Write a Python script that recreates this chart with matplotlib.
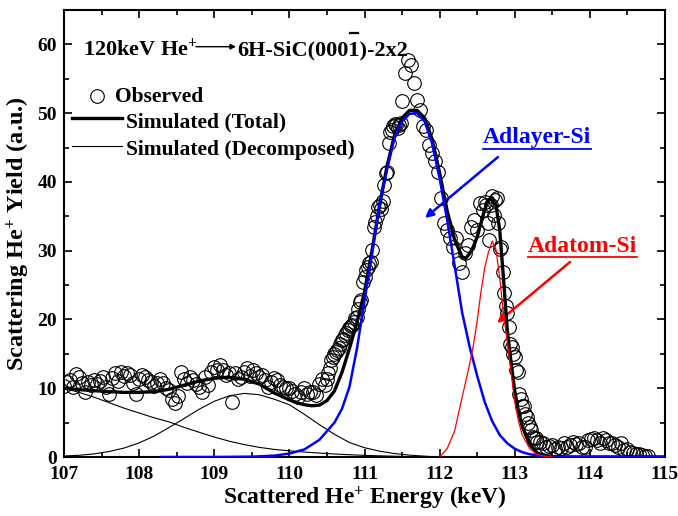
import numpy as np
import matplotlib
matplotlib.use('Agg')
import matplotlib.pyplot as plt
from matplotlib.lines import Line2D
from matplotlib.ticker import MultipleLocator

plt.rcParams['font.family'] = ['Liberation Serif', 'DejaVu Serif']
plt.rcParams['font.weight'] = 'bold'
plt.rcParams['mathtext.fontset'] = 'custom'
plt.rcParams['mathtext.rm'] = 'Liberation Serif:bold'
plt.rcParams['mathtext.bf'] = 'Liberation Serif:bold'
plt.rcParams['mathtext.it'] = 'Liberation Serif:bold:italic'

# ---------------- data ----------------
# observed spectrum: channel segments (start energy, step) + yields
obs_a_start, obs_a_step = 107.00, 0.04
obs_a = [10.3, 10.9, 11.2, 10.2, 12.0, 11.6, 10.7, 9.4, 10.9, 10.5, 11.2, 10.6, 11.0,
         11.7, 10.2, 9.2, 11.5, 12.2, 11.0, 12.4, 11.8, 12.2, 11.9, 10.8, 9.2,
         11.4, 11.9, 11.7, 11.2, 10.9, 10.3, 10.7, 11.3, 10.7, 10.1, 9.7, 8.5, 7.8,
         8.9, 12.4, 11.4, 10.7, 11.7, 11.2, 10.6, 10.2, 9.4, 11.7, 10.5, 12.4,
         13.1, 12.6, 13.4, 12.7, 11.9, 12.2, 8.0, 12.2, 11.4, 11.7, 12.4, 12.9, 11.8,
         12.6, 12.2, 11.7, 11.9, 11.2, 10.2, 10.9, 11.5, 11.2, 10.4, 10.2, 10.0,
         10.0, 9.6, 9.2, 8.7, 9.4, 10.0, 9.2, 9.5, 9.5, 9.0, 10.6, 11.4, 10.4]
obs_b_start, obs_b_step = 110.50, 0.02
obs_b = [11.4, 12.2, 13.0, 14.1, 14.6, 15.0, 15.3, 15.6, 15.8, 16.5,
         17.0, 17.2, 17.7, 18.0, 18.5, 18.7, 19.0, 19.2, 19.6, 20.2,
         20.4, 21.5, 22.6, 22.8, 25.5, 26.2, 27.2, 27.7, 28.2, 28.4,
         30.1, 33.5, 34.2, 35.0, 36.4, 36.6, 36.0, 37.2, 39.5, 41.3,
         41.5, 45.6, 47.2, 47.6, 48.1, 48.4, 48.3, 47.9, 48.3, 48.6]
obs_c_start, obs_c_step = 111.50, 0.04
obs_c = [51.7, 55.8, 57.8, 57.0, 54.4, 51.9, 50.5, 48.1, 47.6, 45.4, 44.2, 43.0, 41.5,
         37.6, 34.0, 33.0, 31.8, 30.6, 31.8, 28.2, 26.9, 29.6, 30.8, 33.5, 34.4, 33.0,
         36.9, 35.9]
obs_d_start, obs_d_step = 112.60, 0.02
obs_d = [37.1, 36.7, 34.0, 31.6, 36.7, 37.9, 35.2, 37.4, 37.6, 34.0,
         30.3, 30.6, 26.9, 23.8, 22.0, 20.9, 18.9, 16.5, 16.0, 15.0,
         14.6, 12.6, 12.4, 9.2, 8.5, 7.4, 7.4, 6.3, 5.8, 4.9,
         4.4, 3.9, 2.9, 2.7, 2.7, 2.2]
obs_e_start, obs_e_step = 113.34, 0.04
obs_e = [2.2, 2.0, 1.5, 1.6, 1.7, 1.2, 1.5, 1.3, 2.0, 1.5,
         1.7, 2.2, 1.9, 2.0, 1.4, 1.5, 2.4, 2.6, 2.8, 2.4,
         2.1, 2.8, 2.5, 2.0, 2.0, 1.8, 1.5, 2.0, 1.0, 1.2,
         0.75, 0.6, 0.5, 0.4, 0.3, 0.2, 0.1]

# decomposed (thin black) components
dec_e = [107.0, 107.2, 107.4, 107.6, 107.8, 108.0, 108.2, 108.4, 108.6, 108.8,
         109.0, 109.2, 109.4, 109.6, 109.8, 110.0, 110.2, 110.4, 110.6, 110.8,
         111.0, 111.2, 111.4, 111.6, 111.8, 112.0]
dec1_y = [10.0, 9.4, 8.7, 7.9, 7.1, 6.4, 5.7, 5.1, 4.3, 3.6,
          2.9, 2.3, 1.8, 1.4, 1.1, 0.9, 0.72, 0.57, 0.44, 0.33,
          0.24, 0.17, 0.11, 0.06, 0.03, 0.0]
dec2_y = [0.15, 0.25, 0.45, 0.8, 1.3, 2.05, 3.05, 4.3, 5.6, 6.95,
          8.1, 8.9, 9.25, 9.05, 8.4, 7.6, 6.2, 4.7, 3.3, 2.1,
          1.35, 0.85, 0.5, 0.27, 0.12, 0.0]

# Adlayer-Si component (blue)
blue_e = [108.3, 109.0, 109.5, 109.8, 110.0, 110.2, 110.4, 110.6, 110.7, 110.8,
          110.9, 111.0, 111.1, 111.2, 111.3, 111.4, 111.5, 111.6, 111.7, 111.8,
          111.9, 112.0, 112.1, 112.2, 112.3, 112.4, 112.5, 112.6, 112.7, 112.8,
          112.9, 113.0, 113.1, 113.2, 113.4, 113.6, 114.0, 115.0]
blue_y = [0, 0, 0.05, 0.2, 0.5, 1.1, 2.5, 5.0, 7.0, 10.2,
          15.8, 22.7, 29.5, 36.8, 41.8, 46.5, 48.8, 49.9, 50.0, 48.8,
          45.6, 40.5, 34.5, 27.8, 21.0, 16.0, 11.8, 8.0, 5.2, 3.2,
          2.0, 1.2, 0.7, 0.4, 0.12, 0.04, 0, 0]

# Adatom-Si component (red)
red_e = [112.0, 112.1, 112.2, 112.3, 112.4, 112.45, 112.5, 112.55, 112.6, 112.65,
         112.7, 112.75, 112.8, 112.85, 112.9, 112.95, 113.0, 113.05, 113.1, 113.2,
         113.3, 113.4, 113.5]
red_y = [0, 1.2, 3.8, 8.7, 13.5, 16.3, 19.8, 24.0, 27.5, 29.8,
         31.4, 30.2, 26.0, 20.9, 16.8, 12.5, 8.0, 5.2, 3.2, 1.2,
         0.35, 0.1, 0.0]

# total simulation (thick black)
tot_e = [107.0, 107.2, 107.4, 107.6, 107.8, 108.0, 108.2, 108.4, 108.6, 108.8,
         109.0, 109.2, 109.4, 109.6, 109.8, 110.0, 110.1, 110.2, 110.3, 110.4,
         110.5, 110.6, 110.7, 110.8, 110.9, 111.0, 111.1, 111.2, 111.3, 111.4,
         111.5, 111.6, 111.7, 111.8, 111.9, 112.0, 112.1, 112.2, 112.3, 112.35,
         112.4, 112.45, 112.5, 112.55, 112.6, 112.65, 112.7, 112.75, 112.8, 112.85,
         112.9, 112.95, 113.0, 113.05, 113.1, 113.2, 113.3, 113.4, 113.5, 113.7, 115.0]
tot_y = [10.0, 9.8, 9.65, 9.5, 9.4, 9.4, 9.5, 9.85, 10.45, 11.05,
         11.45, 11.6, 11.3, 10.6, 9.3, 8.3, 7.9, 7.6, 7.45, 7.55,
         8.2, 9.6, 12.3, 15.8, 19.6, 24.0, 30.0, 36.5, 42.3, 46.8,
         49.3, 50.4, 50.4, 49.3, 46.2, 41.3, 35.8, 31.6, 29.1, 28.9,
         29.6, 30.6, 32.0, 34.0, 36.0, 37.3, 37.7, 36.6, 33.0, 26.0,
         18.5, 13.8, 9.6, 6.6, 4.4, 1.8, 0.6, 0.2, 0.05, 0.0, 0.0]

x_ticks = [107, 108, 109, 110, 111, 112, 113, 114, 115]
y_ticks = [0, 10, 20, 30, 40, 50, 60]

def channels(start, step, vals):
    return np.round(start + step * np.arange(len(vals)), 3)

obs_x = np.concatenate([channels(obs_a_start, obs_a_step, obs_a),
                        channels(obs_b_start, obs_b_step, obs_b),
                        channels(obs_c_start, obs_c_step, obs_c),
                        channels(obs_d_start, obs_d_step, obs_d),
                        channels(obs_e_start, obs_e_step, obs_e)])
obs_y = np.concatenate([obs_a, obs_b, obs_c, obs_d, obs_e])

# ---------------- figure ----------------
W, H = 678, 516
fig = plt.figure(figsize=(W / 100, H / 100), dpi=100)
ax = fig.add_axes([64 / W, 1 - 457 / H, (665 - 64) / W, (457 - 10) / H])

def fp(x, y):
    return (x / W, 1 - y / H)

ax.plot(obs_x, obs_y, 'o', mfc='none', mec='black', ms=9.8, mew=0.8, zorder=2)
ax.plot(dec_e, dec1_y, color='black', lw=0.8, zorder=3)
ax.plot(dec_e, dec2_y, color='black', lw=0.8, zorder=3)
ax.plot(tot_e, tot_y, color='black', lw=2.4, zorder=4)
ax.plot(blue_e, blue_y, color='#0000ff', lw=1.8, zorder=5)
ax.plot(red_e, red_y, color='#ff0000', lw=0.9, zorder=6)

ax.set_xlim(107, 115)
ax.set_ylim(0, 65)
ax.set_xticks(x_ticks)
ax.set_yticks(y_ticks)
ax.xaxis.set_minor_locator(MultipleLocator(0.5))
ax.yaxis.set_minor_locator(MultipleLocator(5))
ax.tick_params(which='both', direction='in', top=True, right=True, width=1.2)
ax.tick_params(which='major', length=6, labelsize=14)
ax.tick_params(axis='x', which='major', pad=6.5)
ax.tick_params(axis='y', which='major', pad=5)
ax.tick_params(which='minor', length=3.5)
for lab in ax.get_xticklabels() + ax.get_yticklabels():
    lab.set_fontweight('bold')
for s in ax.spines.values():
    s.set_linewidth(1.5)

ax.set_xlabel('Scattered He$^{+}$ Energy (keV)', fontsize=17, fontweight='bold', labelpad=1)
ax.set_ylabel('Scattering He$^{+}$ Yield (a.u.)', fontsize=17.5, fontweight='bold', labelpad=4)

# title line
fig.text(*fp(83, 55), '120keV He$^{+}$', fontsize=16, fontweight='bold', va='baseline')
ax.annotate('', xy=fp(236, 46.7), xytext=fp(196, 46.7), xycoords='figure fraction',
            textcoords='figure fraction',
            arrowprops=dict(arrowstyle='-|>', lw=1.0, color='black', mutation_scale=8,
                            shrinkA=0, shrinkB=0))
title2_a = '6H-SiC(000'
title2_b = '1'
title2_c = ')-2x2'
ttl = fig.text(*fp(237, 55), title2_a + title2_b + title2_c, fontsize=16,
               fontweight='bold', va='baseline')

# legend (drawn by hand, Origin style)
fig.add_artist(Line2D([97 / W], [1 - 96 / H], marker='o', mfc='none', mec='black',
                      ms=9.8, mew=0.8, transform=fig.transFigure))
fig.text(*fp(115, 101.5), 'Observed', fontsize=15.5, fontweight='bold', va='baseline')
fig.add_artist(Line2D([72 / W, 122 / W], [1 - 118.3 / H] * 2, color='black', lw=2.4,
                      transform=fig.transFigure))
fig.text(*fp(126, 127.5), 'Simulated (Total)', fontsize=15.5, fontweight='bold', va='baseline')
fig.add_artist(Line2D([72 / W, 122 / W], [1 - 146 / H] * 2, color='black', lw=0.8,
                      transform=fig.transFigure))
fig.text(*fp(126, 154.5), 'Simulated (Decomposed)', fontsize=15.5, fontweight='bold', va='baseline')

# component labels with underline and arrows
t1 = fig.text(*fp(483, 143.5), 'Adlayer-Si', fontsize=17, fontweight='bold', color='#0000ff', va='baseline')
t2 = fig.text(*fp(528, 251.7), 'Adatom-Si', fontsize=17, fontweight='bold', color='#ff0000', va='baseline')
ax.annotate('', xy=fp(425, 218), xytext=fp(498, 157), xycoords='figure fraction',
            textcoords='figure fraction',
            arrowprops=dict(arrowstyle='-|>', lw=1.8, color='#0000ff', mutation_scale=12,
                            shrinkA=0, shrinkB=0))
ax.annotate('', xy=fp(497, 323), xytext=fp(570, 262), xycoords='figure fraction',
            textcoords='figure fraction',
            arrowprops=dict(arrowstyle='-|>', lw=1.8, color='#ff0000', mutation_scale=12,
                            shrinkA=0, shrinkB=0))

fig.canvas.draw()
r = fig.canvas.get_renderer()
for t, yu, c in [(t1, 148.5, '#0000ff'), (t2, 256.5, '#ff0000')]:
    bb = t.get_window_extent(r)
    fig.add_artist(Line2D([bb.x0 / W, bb.x1 / W], [1 - yu / H] * 2, color=c, lw=1.3,
                          transform=fig.transFigure))

# overbar on the last index digit of (000-1)
tmp = fig.text(0, 0, title2_a, fontsize=16, fontweight='bold')
w_a = tmp.get_window_extent(r).width
tmp.set_text(title2_a + title2_b)
w_ab = tmp.get_window_extent(r).width
tmp.remove()
x0 = ttl.get_window_extent(r).x0
fig.add_artist(Line2D([(x0 + w_a + 1.5) / W, (x0 + w_ab - 1.5) / W], [1 - 32.5 / H] * 2,
                      color='black', lw=1.6, transform=fig.transFigure))

fig.savefig('out.png', dpi=100)
